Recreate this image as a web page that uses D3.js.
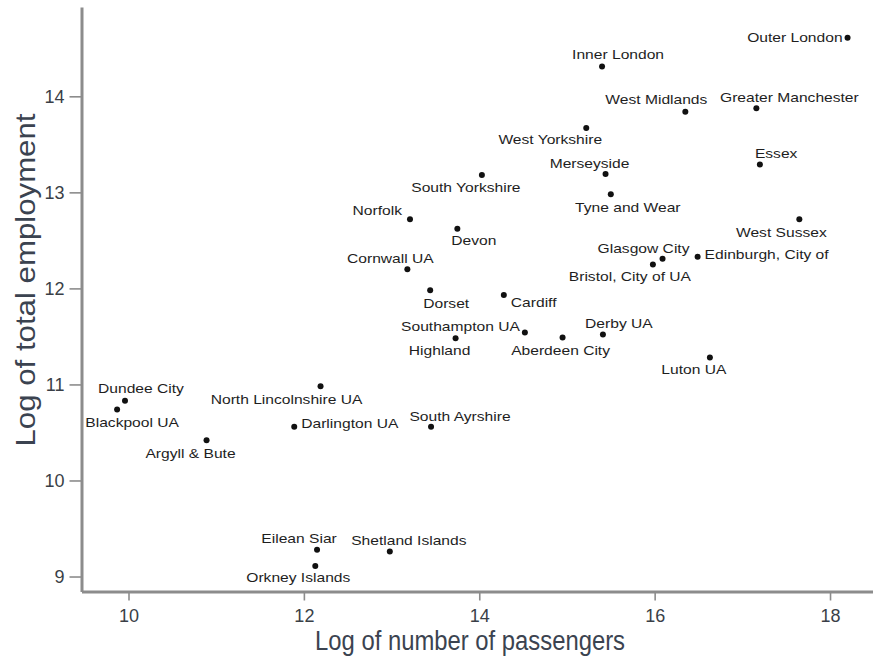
<!DOCTYPE html>
<html>
<head>
<meta charset="utf-8">
<script src="https://cdn.jsdelivr.net/npm/d3@7"></script>
<style>
  html, body { margin: 0; padding: 0; background: #fff; }
  svg { display: block; font-family: "Liberation Sans", Arial, sans-serif; }
</style>
</head>
<body>
<svg id="chart" width="873" height="657"></svg>
<script>
// Areas, with log passengers (x) and log total employment (y)
const areas = [
  "Outer London", "Inner London", "West Midlands", "Greater Manchester",
  "West Yorkshire", "Essex", "Merseyside", "Tyne and Wear", "South Yorkshire",
  "Norfolk", "Devon", "West Sussex", "Glasgow City", "Bristol, City of UA",
  "Edinburgh, City of", "Cornwall UA", "Dorset", "Cardiff", "Southampton UA",
  "Aberdeen City", "Derby UA", "Highland", "Luton UA", "Dundee City",
  "Blackpool UA", "North Lincolnshire UA", "Darlington UA", "South Ayrshire",
  "Argyll & Bute", "Eilean Siar", "Orkney Islands", "Shetland Islands"
];
const logPassengers = [
  18.20, 15.40, 16.35, 17.16,
  15.22, 17.20, 15.44, 15.50, 14.03,
  13.21, 13.75, 17.65, 16.09, 15.98,
  16.49, 13.18, 13.44, 14.28, 14.52,
  14.95, 15.41, 13.73, 16.63, 9.96,
  9.87, 12.19, 11.89, 13.45,
  10.89, 12.15, 12.13, 12.98
];
const logEmployment = [
  14.61, 14.31, 13.84, 13.875,
  13.67, 13.29, 13.19, 12.98, 13.18,
  12.72, 12.62, 12.72, 12.31, 12.25,
  12.33, 12.20, 11.98, 11.93, 11.54,
  11.49, 11.52, 11.48, 11.28, 10.83,
  10.74, 10.98, 10.56, 10.56,
  10.42, 9.28, 9.11, 9.26
];
const xTicks = [10, 12, 14, 16, 18];
const yTicks = [9, 10, 11, 12, 13, 14];

// Marker-label placement: [text-anchor, dx, dy] relative to the marker
const labelPlacement = [
  ["end", -5, 0], ["middle", 16, -12], ["middle", -29, -12], ["middle", 33, -11],
  ["middle", -36, 12], ["start", -5, -11], ["middle", -16, -11], ["middle", 17, 13], ["middle", -16, 13],
  ["end", -8, -9], ["start", -6, 12], ["middle", -18, 13], ["middle", -19, -10], ["middle", -23, 12],
  ["start", 7, -2], ["middle", -17, -11], ["middle", 16, 13], ["start", 7, 7], ["end", -5, -6],
  ["middle", -2, 13], ["middle", 16, -11], ["middle", -16, 12], ["middle", -16, 12], ["middle", 16, -12],
  ["middle", 15, 13], ["middle", -34, 13], ["start", 7, -3], ["middle", 29, -10],
  ["middle", -16, 13], ["middle", -18, -11], ["middle", -17, 12], ["middle", 19, -11]
];

const points = areas.map((name, i) => ({
  name, x: logPassengers[i], y: logEmployment[i], place: labelPlacement[i]
}));

const svg = d3.select("#chart");
const axisColor = "#8c8c8c";

const x = d3.scaleLinear().domain([9.464, 18.49]).range([81.5, 873]);
const y = d3.scaleLinear().domain([8.844, 14.93]).range([591.5, 7]);

// X axis
const gx = svg.append("g")
  .attr("transform", `translate(0,${y.range()[0]})`)
  .call(d3.axisBottom(x).tickValues(xTicks).tickFormat(d3.format("d"))
    .tickSize(9).tickSizeOuter(0).tickPadding(9));
gx.select(".domain").attr("stroke", axisColor).attr("stroke-width", 3);
gx.selectAll(".tick line").attr("stroke", axisColor).attr("stroke-width", 1.6);
gx.selectAll(".tick text").attr("fill", "#3a3f47").attr("font-size", 18)
  .attr("font-family", "Liberation Sans, Arial, sans-serif");

// Y axis
const gy = svg.append("g")
  .attr("transform", `translate(${x.range()[0]},0)`)
  .call(d3.axisLeft(y).tickValues(yTicks).tickFormat(d3.format("d"))
    .tickSize(12).tickSizeOuter(0).tickPadding(5));
gy.select(".domain").attr("stroke", axisColor).attr("stroke-width", 3);
gy.selectAll(".tick line").attr("stroke", axisColor).attr("stroke-width", 1.6);
gy.selectAll(".tick text").attr("fill", "#3a3f47").attr("font-size", 18)
  .attr("font-family", "Liberation Sans, Arial, sans-serif");

// Axis titles
svg.append("text")
  .attr("x", 470).attr("y", 650)
  .attr("text-anchor", "middle")
  .attr("font-size", 27)
  .attr("fill", "#3b4350")
  .attr("textLength", 310).attr("lengthAdjust", "spacingAndGlyphs")
  .text("Log of number of passengers");

svg.append("text")
  .attr("transform", "translate(35,280) rotate(-90)")
  .attr("text-anchor", "middle")
  .attr("font-size", 28)
  .attr("fill", "#3b4350")
  .attr("textLength", 333).attr("lengthAdjust", "spacingAndGlyphs")
  .text("Log of total employment");

// Markers
svg.append("g").selectAll("circle")
  .data(points)
  .join("circle")
  .attr("cx", d => x(d.x))
  .attr("cy", d => y(d.y))
  .attr("r", 3)
  .attr("fill", "#111");

// Marker labels
svg.append("g").selectAll("text")
  .data(points)
  .join("text")
  .attr("transform", d => `translate(${x(d.x) + d.place[1]},${y(d.y) + d.place[2]}) scale(1.25,1)`)
  .attr("text-anchor", d => d.place[0])
  .attr("dominant-baseline", "central")
  .attr("font-size", 12.5)
  .attr("fill", "#1e1e1e")
  .text(d => d.name);
</script>
</body>
</html>
